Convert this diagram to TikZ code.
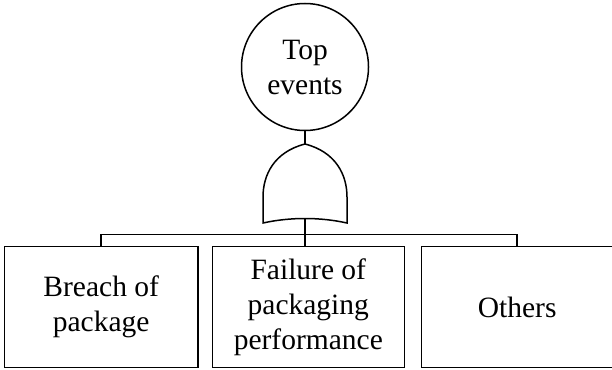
\documentclass[tikz,border=0pt]{standalone}
\usepackage{fontspec}
\setmainfont{Liberation Serif}
\begin{document}
\begin{tikzpicture}[x=1pt,y=-1pt,
  line width=1.5pt,
  lbl/.style={font=\fontsize{29.5}{35}\selectfont, align=center},
  evbox/.style={draw, rectangle, minimum height=120.8pt, inner sep=0pt, lbl}]
\useasboundingbox (0,0) rectangle (612,369);
\node[draw, circle, minimum size=127pt, inner sep=0pt, lbl] (top) at (305,67) {Top\\events};
\coordinate (gtop) at (305,144);
\coordinate (gbot) at (305,218.5);
\draw (gtop) .. controls (336,152) and (347,175) .. (347,197) -- (347,223)
  .. controls (320,217) and (290,217) .. (263,223) -- (263,197)
  .. controls (263,175) and (274,152) .. (gtop) -- cycle;
\draw (top.south) -- (gtop);
\coordinate (bar) at (305,234.5);
\node[evbox, minimum width=193.7pt] (b1) at (101.2,307.1) {Breach of\\package};
\node[evbox, minimum width=192pt] (b2) at (308.3,307.1) {Failure of\\packaging\\performance};
\node[evbox, minimum width=191pt] (b3) at (517.2,307.1) {Others};
\draw (gbot) -- (bar);
\draw (bar) -| (b1.north);
\draw (bar) -| (b3.north);
\draw (bar) -- (bar |- b2.north);
\end{tikzpicture}
\end{document}
